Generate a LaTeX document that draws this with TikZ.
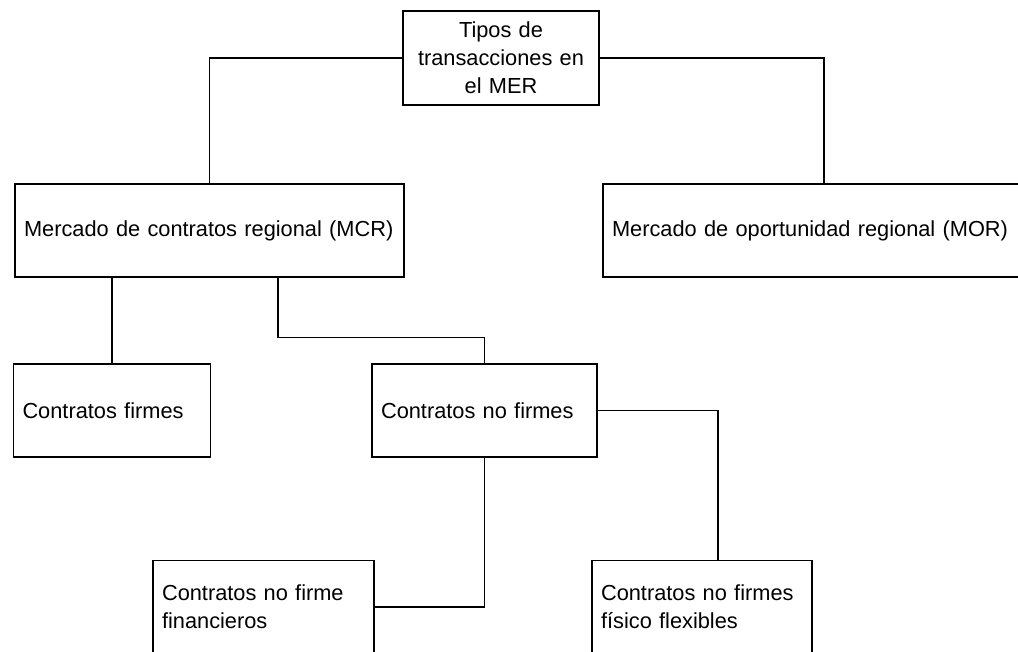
\documentclass[tikz,border=0pt]{standalone}
\usepackage{fontspec}
\setmainfont{Liberation Sans}
\usetikzlibrary{arrows.meta, positioning}

\begin{document}
\begin{tikzpicture}[x=0.02cm, y=-0.02cm, line width=0.7pt,
  every node/.style={font=\fontsize{12.4}{16}\selectfont},
  caja/.style={draw, rectangle, minimum height=1.86cm, inner xsep=0.18cm, inner ysep=0pt, align=left}]
\useasboundingbox (0,0) rectangle (1018,652);
% Caja principal
\node[caja, align=center, text width=3.56cm, minimum height=1.88cm] (mer) at (501,58) {Tipos de\\transacciones en\\el MER};
% Mercados
\node[caja, text width=7.42cm] (mcr) at (209.5,230.5) {Mercado de contratos regional (MCR)};
\node[caja, text width=8.48cm] (mor) at (824,230.5) {Mercado de oportunidad regional (MOR)};
% Contratos
\node[caja, text width=3.58cm] (firmes) at (112,410.5) {Contratos firmes};
\node[caja, text width=4.14cm] (nofirmes) at (484.5,410.5) {Contratos no firmes};
\node[caja, text width=4.06cm] (fin) at (263.5,607) {Contratos no firme\\financieros};
\node[caja, text width=4.04cm] (fis) at (702,607) {Contratos no firmes\\físico flexibles};

% Conectores
\draw (mer.west) -| (mcr.north);
\draw (mer.east) -| (mor.north);
\draw (firmes.north) -- (firmes.north |- mcr.south);
\draw ([xshift=1.37cm]mcr.south) -- ++(0,60) -| (nofirmes.north);
\draw (nofirmes.east) -| ([xshift=0.32cm]fis.north);
\draw (nofirmes.south) |- (fin.east);
\end{tikzpicture}
\end{document}
